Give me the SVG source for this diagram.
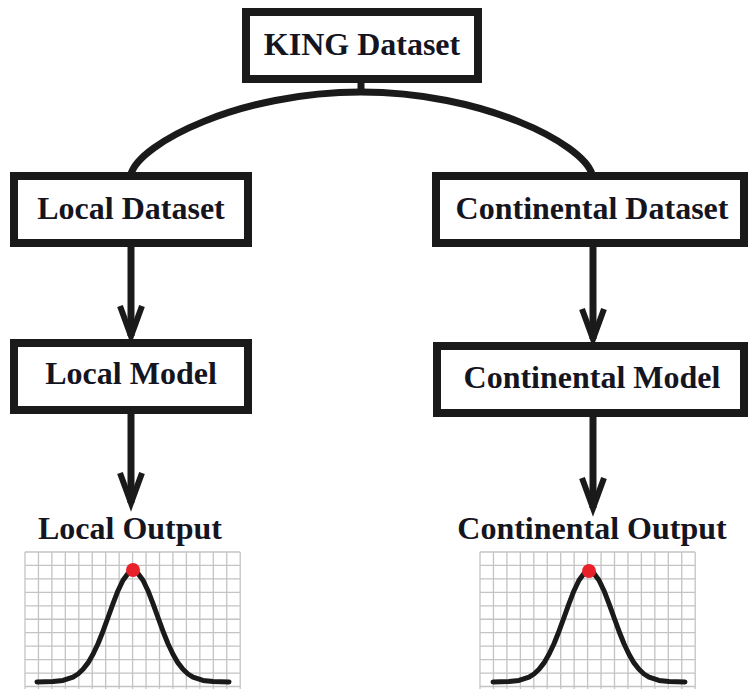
<svg xmlns="http://www.w3.org/2000/svg" xmlns:xlink="http://www.w3.org/1999/xlink" width="749" height="689" viewBox="0 0 749 689">
<style>
.box{fill:#fff;stroke:#1a1a1a;stroke-width:8}
.lbl{font-family:"Liberation Serif","Times New Roman",serif;font-weight:bold;font-size:32px;fill:#15151f;text-anchor:middle}
.conn{fill:none;stroke:#1a1a1a;stroke-width:7}
.grid{fill:none;stroke:#c4c4c4;stroke-width:1.3}
.bell{fill:none;stroke:#1a1a1a;stroke-width:5;stroke-linejoin:round;stroke-linecap:round}
.dot{fill:#e8202a}
</style>
<defs>
<marker id="chev" markerUnits="userSpaceOnUse" viewBox="-40 -20 50 40" refX="0" refY="0" markerWidth="50" markerHeight="40" orient="auto" overflow="visible">
<path d="M-30,-11 L0,0 L-30,11" fill="none" stroke="#1a1a1a" stroke-width="6" stroke-linejoin="miter" stroke-miterlimit="4"/>
</marker>
<path id="gridlines" class="grid" d="M0,0v140M13.45,0v140M26.9,0v140M40.35,0v140M53.8,0v140M67.25,0v140M80.7,0v140M94.15,0v140M107.6,0v140M121.05,0v140M134.5,0v140M147.95,0v140M161.4,0v140M174.85,0v140M188.3,0v140M201.75,0v140M215.2,0v140M0,0h215.2M0,13.45h215.2M0,26.9h215.2M0,40.35h215.2M0,53.8h215.2M0,67.25h215.2M0,80.7h215.2M0,94.15h215.2M0,107.6h215.2M0,121.05h215.2M0,134.5h215.2"/>
<polyline id="bellcurve" class="bell" points="-96,111 -80,110.6 -70,109.4 -60,106.1 -55,103 -50,98.3 -45,91.9 -40,83.3 -35,72.7 -30,60.2 -25,46.5 -20,32.6 -15,19.7 -10,9.2 -5,2.4 0,0 5,2.4 10,9.2 15,19.7 20,32.6 25,46.5 30,60.2 35,72.7 40,83.3 45,91.9 50,98.3 55,103 60,106.1 70,109.4 80,110.6 96,111"/>
</defs>
<rect width="749" height="689" fill="#fff"/>
<g id="connectors">
<path class="conn" d="M361,80 V95"/>
<path class="conn" d="M131,174 C140,143 240,92 361,92 C482,92 582,143 592,174"/>
<path class="conn" d="M131,247 V336" marker-end="url(#chev)"/>
<path class="conn" d="M593,247 V339" marker-end="url(#chev)"/>
<path class="conn" d="M131,414 V503" marker-end="url(#chev)"/>
<path class="conn" d="M593,417 V508" marker-end="url(#chev)"/>
</g>
<g id="king">
<rect class="box" x="246" y="12" width="232" height="67"/>
<text class="lbl" x="362" y="55">KING Dataset</text>
</g>
<g id="local-dataset">
<rect class="box" x="14" y="176" width="234" height="67"/>
<text class="lbl" x="131" y="219">Local Dataset</text>
</g>
<g id="continental-dataset">
<rect class="box" x="436" y="176" width="308" height="67"/>
<text class="lbl" x="592" y="219">Continental Dataset</text>
</g>
<g id="local-model">
<rect class="box" x="14" y="343" width="234" height="67"/>
<text class="lbl" x="131" y="384">Local Model</text>
</g>
<g id="continental-model">
<rect class="box" x="437" y="346" width="307" height="67"/>
<text class="lbl" x="592" y="388">Continental Model</text>
</g>
<g id="local-output">
<text class="lbl" x="130" y="539">Local Output</text>
<use xlink:href="#gridlines" href="#gridlines" transform="translate(25,552)"/>
<use xlink:href="#bellcurve" href="#bellcurve" transform="translate(133,571)"/>
<circle class="dot" cx="133" cy="570" r="7"/>
</g>
<g id="continental-output">
<text class="lbl" x="592" y="539">Continental Output</text>
<use xlink:href="#gridlines" href="#gridlines" transform="translate(480,552)"/>
<use xlink:href="#bellcurve" href="#bellcurve" transform="translate(589,571)"/>
<circle class="dot" cx="589" cy="571" r="7"/>
</g>
</svg>
